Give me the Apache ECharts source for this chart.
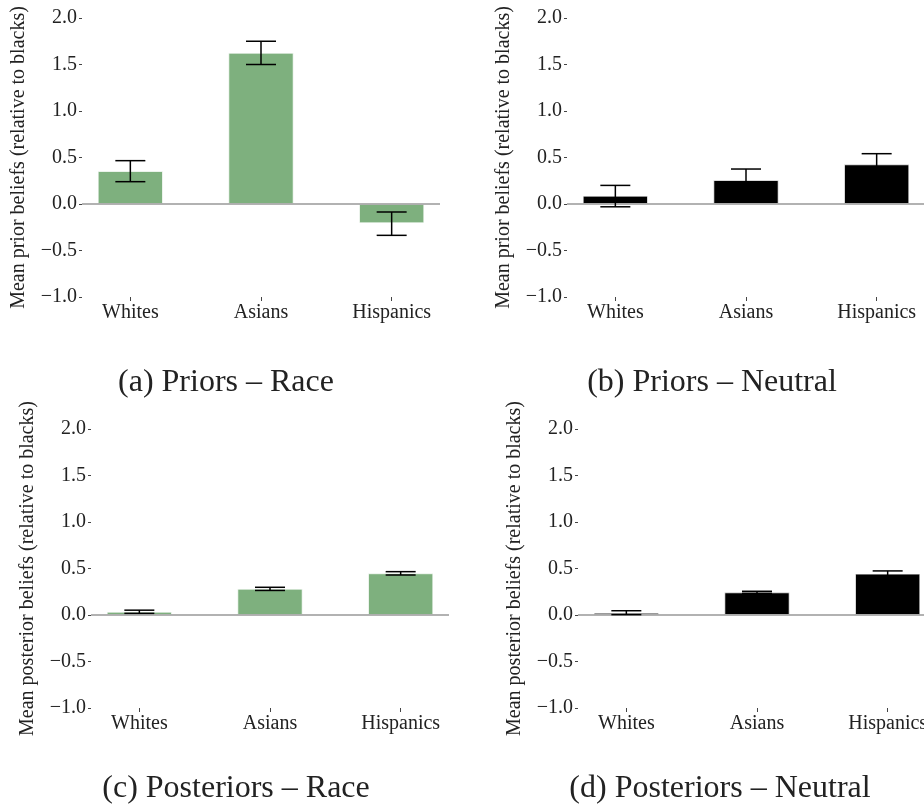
<!DOCTYPE html>
<html>
<head>
<meta charset="utf-8">
<script src="https://cdn.jsdelivr.net/npm/echarts@6/dist/echarts.min.js"></script>
<style>
html,body{margin:0;padding:0;background:#fff;}
#chart{width:924px;height:805px;}
</style>
</head>
<body>
<div id="chart"></div>
<script>
// ---- data ----
const categories = ['Whites', 'Asians', 'Hispanics'];
const yTicks = [-1.0, -0.5, 0.0, 0.5, 1.0, 1.5, 2.0];

const priorsRaceMean = [0.355, 1.627, -0.208];
const priorsRaceLow  = [0.240, 1.500, -0.337];
const priorsRaceHigh = [0.466, 1.750, -0.086];

const priorsNeutralMean = [0.090, 0.258, 0.427];
const priorsNeutralLow  = [-0.030, 0.140, 0.313];
const priorsNeutralHigh = [0.200, 0.376, 0.541];

const postRaceMean = [0.036, 0.283, 0.449];
const postRaceLow  = [0.018, 0.264, 0.430];
const postRaceHigh = [0.052, 0.298, 0.466];

const postNeutralMean = [0.025, 0.244, 0.445];
const postNeutralLow  = [0.004, 0.233, 0.416];
const postNeutralHigh = [0.046, 0.255, 0.474];

const panelTitles = ['(a) Priors \u2013 Race', '(b) Priors \u2013 Neutral',
                     '(c) Posteriors \u2013 Race', '(d) Posteriors \u2013 Neutral'];
const yNames = ['Mean prior beliefs (relative to blacks)', 'Mean prior beliefs (relative to blacks)',
                'Mean posterior beliefs (relative to blacks)', 'Mean posterior beliefs (relative to blacks)'];

// ---- layout / style ----
const FONT = '"Liberation Serif", "Times New Roman", serif';
const TXT = '#222';
const GREEN = '#7eb07e';
const panels = [
  {mean: priorsRaceMean, low: priorsRaceLow, high: priorsRaceHigh, color: GREEN,
   grid: {left: 82, top: 18, width: 358, height: 279}, title: {x: 226, y: 381}},
  {mean: priorsNeutralMean, low: priorsNeutralLow, high: priorsNeutralHigh, color: '#000',
   grid: {left: 567, top: 18, width: 358, height: 279}, title: {x: 712, y: 381}},
  {mean: postRaceMean, low: postRaceLow, high: postRaceHigh, color: GREEN,
   grid: {left: 91, top: 429, width: 358, height: 279}, title: {x: 236, y: 787}},
  {mean: postNeutralMean, low: postNeutralLow, high: postNeutralHigh, color: '#000',
   grid: {left: 578, top: 429, width: 358, height: 279}, title: {x: 720, y: 787}}
];

const grids = [], xAxes = [], yAxes = [], series = [];
panels.forEach((p, i) => {
  grids.push(Object.assign({containLabel: false, outerBoundsMode: 'none'}, p.grid));
  xAxes.push({
    type: 'value', gridIndex: i, min: -0.37, max: 2.37, position: 'bottom',
    axisLine: {show: false, onZero: false},
    splitLine: {show: false},
    axisTick: {show: true, customValues: [0, 1, 2], length: 4, lineStyle: {color: '#444', width: 1}},
    axisLabel: {customValues: [0, 1, 2], margin: 6, color: TXT, fontFamily: FONT, fontSize: 20,
      hideOverlap: false,
      formatter: v => categories[Math.round(v)]}
  });
  yAxes.push({
    type: 'value', gridIndex: i, min: yTicks[0], max: yTicks[yTicks.length - 1], interval: 0.5,
    position: 'left',
    name: yNames[i], nameLocation: 'middle', nameRotate: 90, nameGap: 53,
    nameTextStyle: {color: TXT, fontFamily: FONT, fontSize: 20},
    axisLine: {show: false, onZero: false},
    splitLine: {show: false},
    axisTick: {show: true, length: 3, lineStyle: {color: '#444', width: 1}},
    axisLabel: {margin: 5, color: TXT, fontFamily: FONT, fontSize: 20,
      formatter: v => (v < 0 ? '\u2212' : '') + Math.abs(v).toFixed(1)}
  });
  series.push({
    type: 'bar', xAxisIndex: i, yAxisIndex: i, barWidth: '50%', z: 2,
    data: p.mean.map((v, k) => [k, v]),
    itemStyle: {color: p.color, borderColor: 'rgba(255,255,255,0.7)', borderWidth: 1},
    markLine: {
      silent: true, symbol: 'none', z: 3,
      label: {show: false},
      lineStyle: {color: '#999', width: 1.5, type: 'solid'},
      data: [{yAxis: 0}]
    }
  });
  series.push({
    type: 'custom', xAxisIndex: i, yAxisIndex: i, z: 4,
    data: p.mean.map((v, k) => [k, p.low[k], p.high[k]]),
    encode: {x: 0, y: [1, 2]},
    renderItem: (params, api) => {
      const x = api.value(0);
      const a = api.coord([x, api.value(1)]);
      const b = api.coord([x, api.value(2)]);
      const cw = 15;
      const st = {stroke: '#000', lineWidth: 1.5};
      return {type: 'group', children: [
        {type: 'line', shape: {x1: a[0], y1: a[1], x2: b[0], y2: b[1]}, style: st},
        {type: 'line', shape: {x1: a[0] - cw, y1: a[1], x2: a[0] + cw, y2: a[1]}, style: st},
        {type: 'line', shape: {x1: b[0] - cw, y1: b[1], x2: b[0] + cw, y2: b[1]}, style: st}
      ]};
    }
  });
});

const titles = panels.map((p, i) => ({
  text: panelTitles[i], left: p.title.x, top: p.title.y - 14, textAlign: 'center', padding: 0,
  textStyle: {color: TXT, fontFamily: FONT, fontSize: 32, fontWeight: 'normal'}
}));

const chart = echarts.init(document.getElementById('chart'), null, {renderer: 'canvas'});
chart.setOption({
  animation: false,
  backgroundColor: '#fff',
  title: titles,
  grid: grids, xAxis: xAxes, yAxis: yAxes, series: series
});
</script>
</body>
</html>
